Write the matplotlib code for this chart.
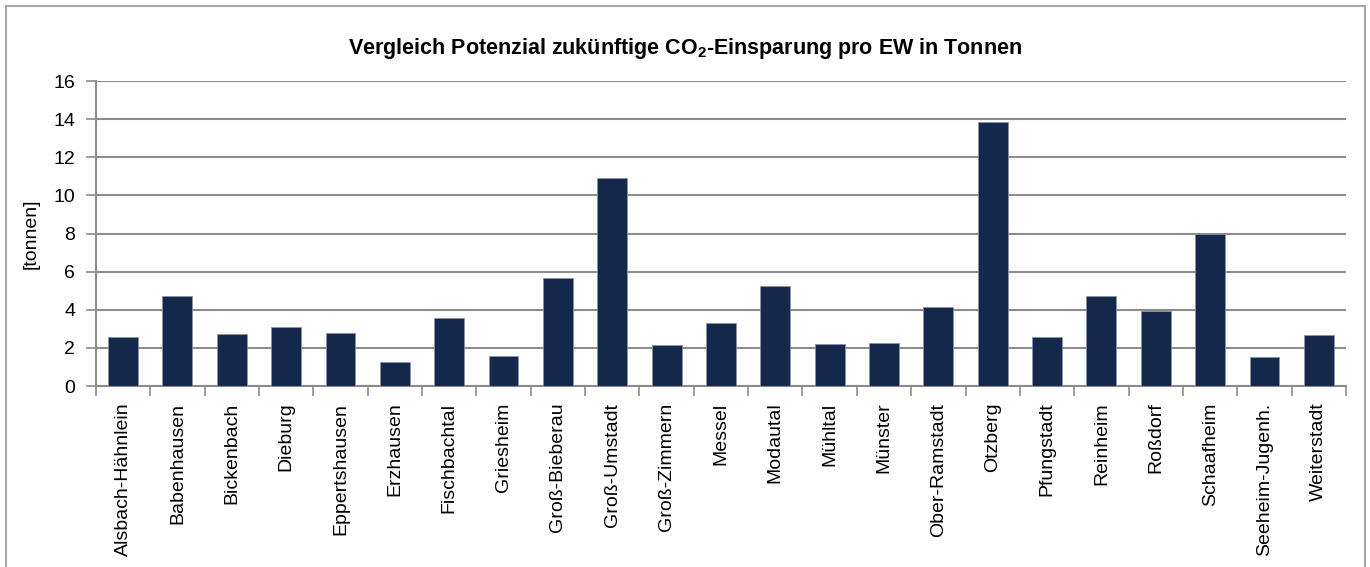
import numpy as np
import matplotlib
matplotlib.use('Agg')
import matplotlib.pyplot as plt
from matplotlib.patches import Rectangle

# Daten
gemeinden = ['Alsbach-Hähnlein', 'Babenhausen', 'Bickenbach', 'Dieburg', 'Eppertshausen',
             'Erzhausen', 'Fischbachtal', 'Griesheim', 'Groß-Bieberau', 'Groß-Umstadt',
             'Groß-Zimmern', 'Messel', 'Modautal', 'Mühltal', 'Münster', 'Ober-Ramstadt',
             'Otzberg', 'Pfungstadt', 'Reinheim', 'Roßdorf', 'Schaafheim',
             'Seeheim-Jugenh.', 'Weiterstadt']
einsparung = [2.55, 4.72, 2.71, 3.08, 2.76, 1.24, 3.55, 1.59, 5.65, 10.91,
              2.13, 3.32, 5.26, 2.19, 2.27, 4.13, 13.83, 2.55, 4.74, 3.95, 7.98,
              1.52, 2.66]
y_ticks = [0, 2, 4, 6, 8, 10, 12, 14, 16]

plt.rcParams['font.family'] = ['Liberation Sans', 'DejaVu Sans']
plt.rcParams['mathtext.fontset'] = 'custom'
plt.rcParams['mathtext.rm'] = 'Liberation Sans:bold'

fig = plt.figure(figsize=(13.7, 5.67), dpi=100)
ax = fig.add_axes([0.070, 0.3192, 0.9125, 0.5378])

# Rahmen um das Diagramm
fig.patches.append(Rectangle((6 / 1370, -0.1), 1359 / 1370, 1.1 - 6 / 567,
                             transform=fig.transFigure, fill=False,
                             edgecolor='#a6a6a6', linewidth=1.5))

x = np.arange(len(gemeinden))
ax.bar(x, einsparung, width=0.55, color='#13284a', edgecolor='#8a93a6',
       linewidth=0.6, zorder=3)

ax.set_xlim(-0.5, len(gemeinden) - 0.5)
ax.set_ylim(0, 16)
ax.set_yticks(y_ticks)
ax.set_yticklabels([str(v) for v in y_ticks], fontsize=14)
ax.yaxis.grid(True, color='#8c8c8c', linewidth=1.5, zorder=0)

ax.set_xticks(x)
ax.set_xticklabels(gemeinden, rotation=90, fontsize=14)
ax.set_xticks(np.arange(-0.5, len(gemeinden)), minor=True)
ax.tick_params(axis='x', which='major', length=0, pad=12)
ax.tick_params(axis='x', which='minor', length=7, width=1.2, color='#8c8c8c')
ax.tick_params(axis='y', length=7, width=1.2, color='#8c8c8c', pad=8)

for s in ['top', 'right']:
    ax.spines[s].set_visible(False)
for s in ['left', 'bottom']:
    ax.spines[s].set_color('#8c8c8c')
    ax.spines[s].set_linewidth(1.5)

ax.set_ylabel('[tonnen]', fontsize=14, labelpad=10)
fig.text(0.5, 0.915, 'Vergleich Potenzial zukünftige CO$_2$-Einsparung pro EW in Tonnen',
         ha='center', va='center', fontsize=15.5, fontweight='bold')

fig.savefig('out.png', dpi=100)
